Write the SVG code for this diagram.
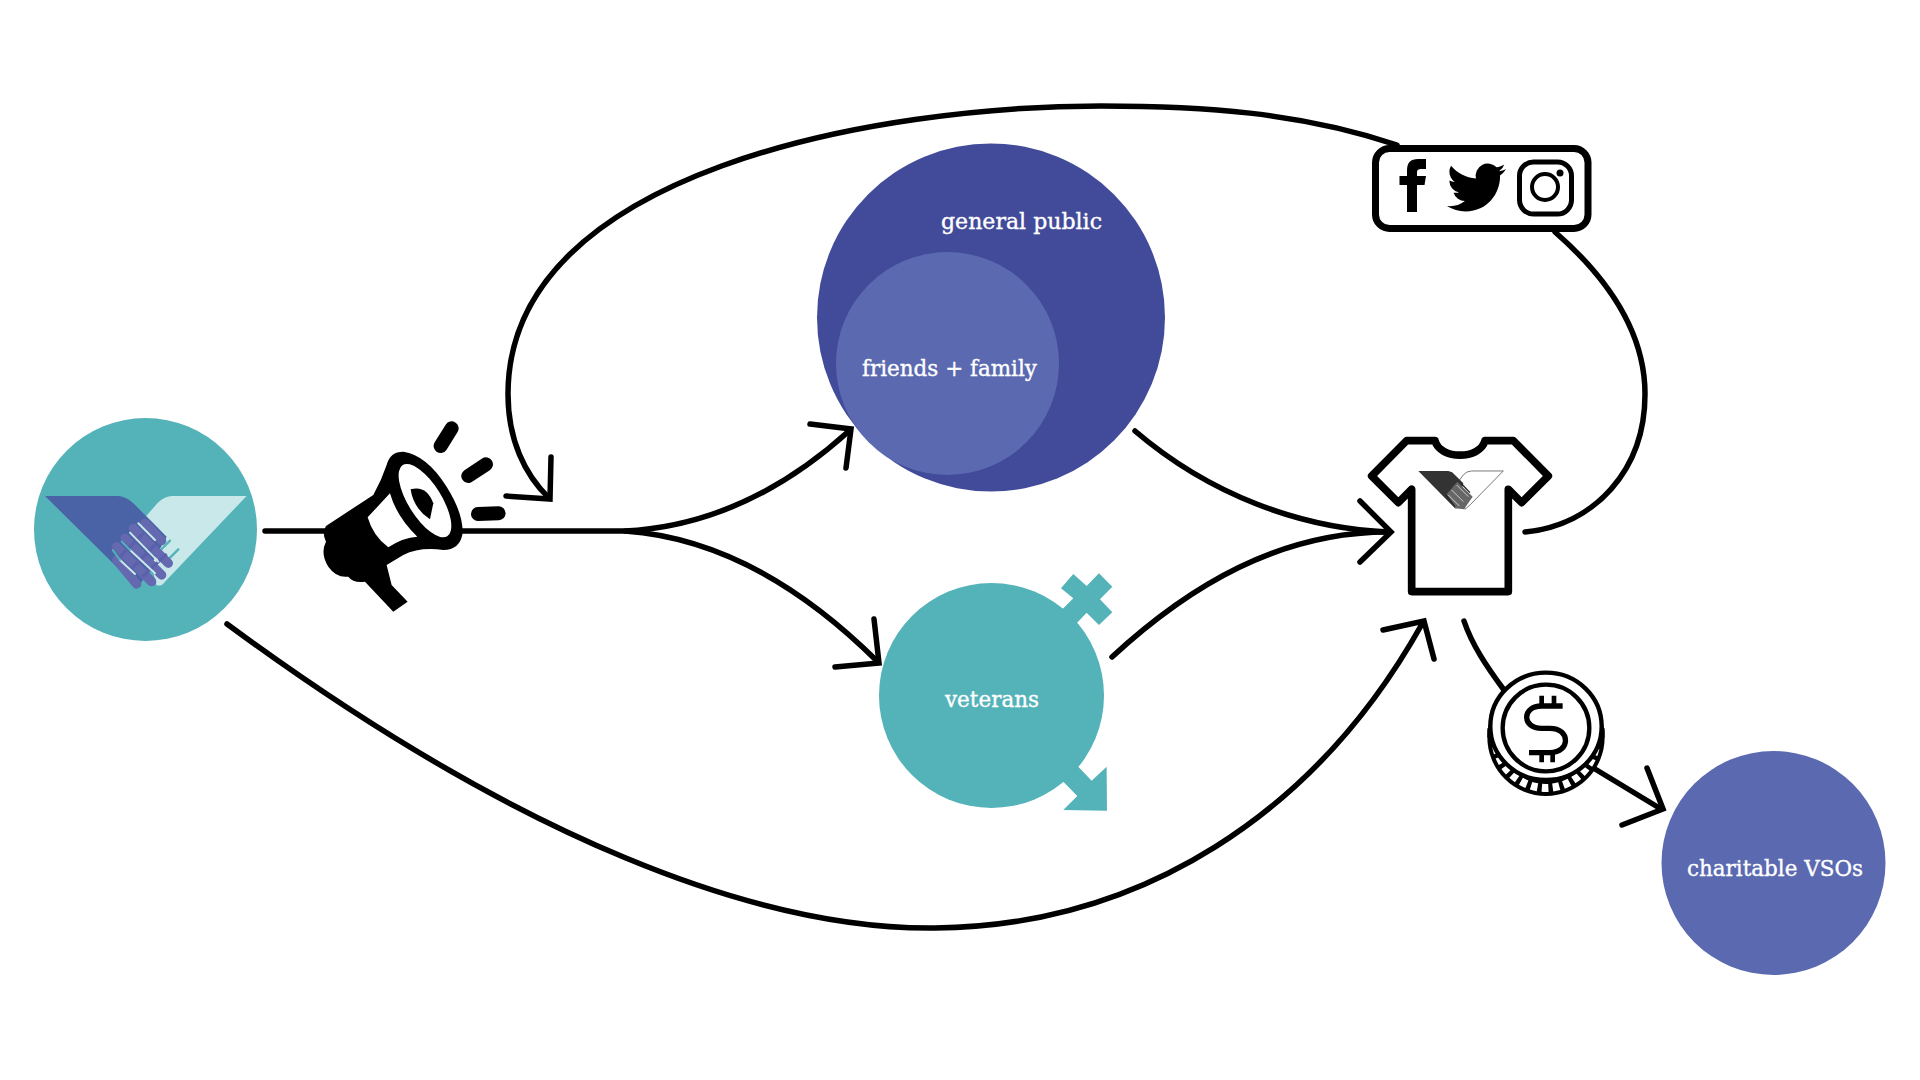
<svg xmlns="http://www.w3.org/2000/svg" width="1920" height="1080" viewBox="0 0 1920 1080">
<style>
.c{fill:none;stroke:#000;stroke-width:5.500;stroke-linecap:round;stroke-linejoin:miter}
.t{font-family:"DejaVu Serif","Liberation Serif",serif;font-size:22px;fill:#fff;stroke:#fff;stroke-width:.35px}
</style>
<rect width="1920" height="1080" fill="#fff"/>
<g id="connectors">
<path class="c" d="M265,531 H625 Q745,525 849,431"/>
<path class="c" d="M810,424 L851,429 L846,468"/>
<path class="c" d="M625,531 Q755,540 877,661"/>
<path class="c" d="M874,619 L879,663 L835,667"/>
<path class="c" d="M227,624 C520,840 760,930 935,928 C1140,926 1315,815 1422,624"/>
<path class="c" d="M1383,630 L1424,621 L1434,659"/>
<path class="c" d="M1397,145 C1300,112 1200,106 1101,106 C880,106 508,170 508,394 C508,440 525,475 549,498"/>
<path class="c" d="M506,496 L550,499 L551,457"/>
<path class="c" d="M1555,232 C1610,280 1645,335 1645,394 C1645,470 1595,525 1525,532"/>
<path class="c" d="M1135,431 C1210,495 1300,528 1388,532"/>
<path class="c" d="M1112,657 C1190,585 1280,532 1388,532"/>
<path class="c" d="M1360,501 L1391,532 L1360,562"/>
<path class="c" d="M1464,621 C1472,645 1487,667 1504,690"/>
<path class="c" d="M1595,769 L1661,809"/>
<path class="c" d="M1647,768 L1663,809 L1622,825"/>
</g>
<g id="logo">
<circle cx="145.500" cy="529.500" r="111.500" fill="#54b2b9"/>
<g transform="translate(20,400) scale(.3333)">
<path d="M680,288 H455 Q430,290 412,310 L360,370 L410,556 Q425,560 435,545 Z" fill="#c9e8ea"/>
<path d="M475,448 L445,478 M450,422 L425,447" stroke="#54b2b9" stroke-width="7" stroke-linecap="round"/>
<path d="M75,288 H295 Q320,290 340,310 L400,370 L440,410 L360,555 L345,555 Z" fill="#4a62a6"/>
<g fill="none" stroke="#6469b0" stroke-width="28" stroke-linecap="round">
<path d="M375,370 L425,422"/><path d="M340,385 L445,490"/><path d="M315,415 L425,525"/><path d="M290,440 L395,545"/><path d="M290,480 L350,552"/>
</g>
<g fill="none" stroke="#5a60a9" stroke-width="9">
<path d="M300,470 L375,395"/><path d="M335,505 L410,430"/><path d="M368,530 L440,462"/>
</g>
<g stroke="#c9e8ea" stroke-width="6" stroke-linecap="round">
<path d="M355,370 L405,420"/><path d="M330,398 L415,485"/><path d="M330,450 L405,520"/><path d="M300,480 L345,522"/>
</g>
<g stroke="#54b2b9" stroke-width="6" stroke-linecap="round">
<path d="M305,425 L330,450"/><path d="M278,450 L300,480"/>
</g>
</g>
</g>
<g id="megaphone" transform="translate(20,400) scale(.3333)">
<path d="M918,378 L1060,285 Q1085,240 1100,195 Q1110,155 1150,155 Q1220,165 1280,260 Q1330,340 1328,400 Q1320,450 1270,450 Q1200,440 1150,465 L1100,495 L1115,555 L1163,605 L1120,635 L1035,545 Q1000,550 985,530 Q950,535 925,500 Q900,460 918,425 Q905,400 918,378 Z" fill="#000"/>
<path d="M1043,352 L1110,280 Q1130,350 1192,410 Q1150,412 1105,442 Q1060,410 1043,352 Z" fill="#fff"/>
<ellipse cx="1215" cy="302" rx="126" ry="50" transform="rotate(58 1215 302)" fill="#fff"/>
<path d="M1172,268 Q1220,255 1240,310 L1230,358 Q1180,325 1172,268 Z" fill="#000"/>
<path d="M1262,138 L1295,85 M1345,228 L1398,193 M1374,342 L1436,340" stroke="#000" stroke-width="42" stroke-linecap="round"/>
</g>
<g id="general-public">
<circle cx="991" cy="317.500" r="174" fill="#424b99"/>
<circle cx="947.500" cy="363.500" r="111.500" fill="#5a69b0"/>
<text class="t" x="941" y="229" textLength="161" lengthAdjust="spacingAndGlyphs">general public</text>
<text class="t" x="862" y="376" textLength="175" lengthAdjust="spacingAndGlyphs">friends + family</text>
</g>
<g id="veterans">
<g fill="#54b2b9" transform="translate(860,560) scale(.3333)">
<path d="M590,165 L640,115 L603,85 L640,42 L680,78 L717,40 L757,80 L720,118 L757,157 L717,195 L680,158 L640,200 Z"/>
<path d="M630,600 L655,620 L695,662 L740,620 L741,752 L610,750 L652,708 L610,665 L590,650 Z"/>
</g>
<circle cx="991.500" cy="695.500" r="112.500" fill="#54b2b9"/>
<text class="t" x="945" y="707" textLength="94" lengthAdjust="spacingAndGlyphs">veterans</text>
</g>
<g id="social">
<rect x="1375.500" y="148.500" width="212.500" height="80" rx="14" fill="#fff" stroke="#000" stroke-width="7"/>
<path d="M1407,212 V185 H1399.500 V176 H1407 V170 Q1407,159 1418,159 H1426 V169 H1421 Q1417,169 1417,172 V176 H1426 L1424.500,185 H1417 V212 Z" fill="#000"/>
<path transform="translate(1447,158) scale(2.46)" fill="#000" d="M23.953 4.57a10 10 0 01-2.825.775 4.958 4.958 0 002.163-2.723c-.951.555-2.005.959-3.127 1.184a4.92 4.92 0 00-8.384 4.482C7.69 8.095 4.067 6.13 1.64 3.162a4.822 4.822 0 00-.666 2.475c0 1.71.87 3.213 2.188 4.096a4.904 4.904 0 01-2.228-.616v.06a4.923 4.923 0 003.946 4.827 4.996 4.996 0 01-2.212.085 4.936 4.936 0 004.604 3.417 9.867 9.867 0 01-6.102 2.105c-.39 0-.779-.023-1.17-.067a13.995 13.995 0 007.557 2.209c9.053 0 13.998-7.496 13.998-13.985 0-.21 0-.42-.015-.63A9.935 9.935 0 0024 4.59z"/>
<rect x="1519.500" y="162" width="52" height="52" rx="14" fill="none" stroke="#000" stroke-width="5"/>
<circle cx="1545" cy="187" r="13" fill="none" stroke="#000" stroke-width="4"/>
<circle cx="1560" cy="173" r="3.500" fill="#000"/>
</g>
<g id="tshirt">
<g transform="translate(1340,130) scale(.3333)">
<path d="M285,932 H200 L95,1038 L175,1118 L215,1078 V1385 H505 V1078 L545,1118 L625,1038 L520,932 H435 C420,990 300,990 285,932 Z" fill="#fff" stroke="#000" stroke-width="23" stroke-linejoin="round"/>
<path d="M490,1023 H395 Q380,1023 370,1035 L355,1055 L375,1138 L390,1125 Z" fill="#fff" stroke="#777" stroke-width="3"/>
<path d="M235,1023 H325 Q338,1025 345,1035 L370,1060 L350,1135 L345,1135 Z" fill="#333"/>
<path d="M352,1055 L398,1100 L372,1138 L345,1135 L318,1095 Z" fill="#666"/>
<path d="M350,1065 L385,1100 M335,1080 L370,1115 M325,1095 L358,1128" stroke="#ccc" stroke-width="3"/>
<path d="M365,1062 L390,1088 M318,1095 L345,1130" stroke="#222" stroke-width="4"/>
</g>
</g>
<g id="coin" transform="translate(1440,600) scale(.3333)">
<circle cx="318" cy="412" r="176" fill="#000"/>
<path d="M142,385 H494 V412 H142 Z" fill="#000"/>
<circle cx="318" cy="412" r="152" fill="none" stroke="#fff" stroke-width="24" stroke-dasharray="20 13"/>
<ellipse cx="318" cy="379" rx="167" ry="161" fill="#fff" stroke="#000" stroke-width="13"/>
<circle cx="318" cy="384" r="130" fill="#fff" stroke="#000" stroke-width="13"/>
<path d="M368,318 H305 C245,318 245,385 305,385 H330 C392,385 392,458 330,458 H267" fill="none" stroke="#000" stroke-width="16"/>
<path d="M305,287 V318 M342,287 V318 M305,458 V487 M338,458 V487" fill="none" stroke="#000" stroke-width="14"/>
</g>
<g id="charitable">
<circle cx="1773.500" cy="863" r="112" fill="#5a69b0"/>
<text class="t" x="1687" y="876" textLength="176" lengthAdjust="spacingAndGlyphs">charitable VSOs</text>
</g>
</svg>
